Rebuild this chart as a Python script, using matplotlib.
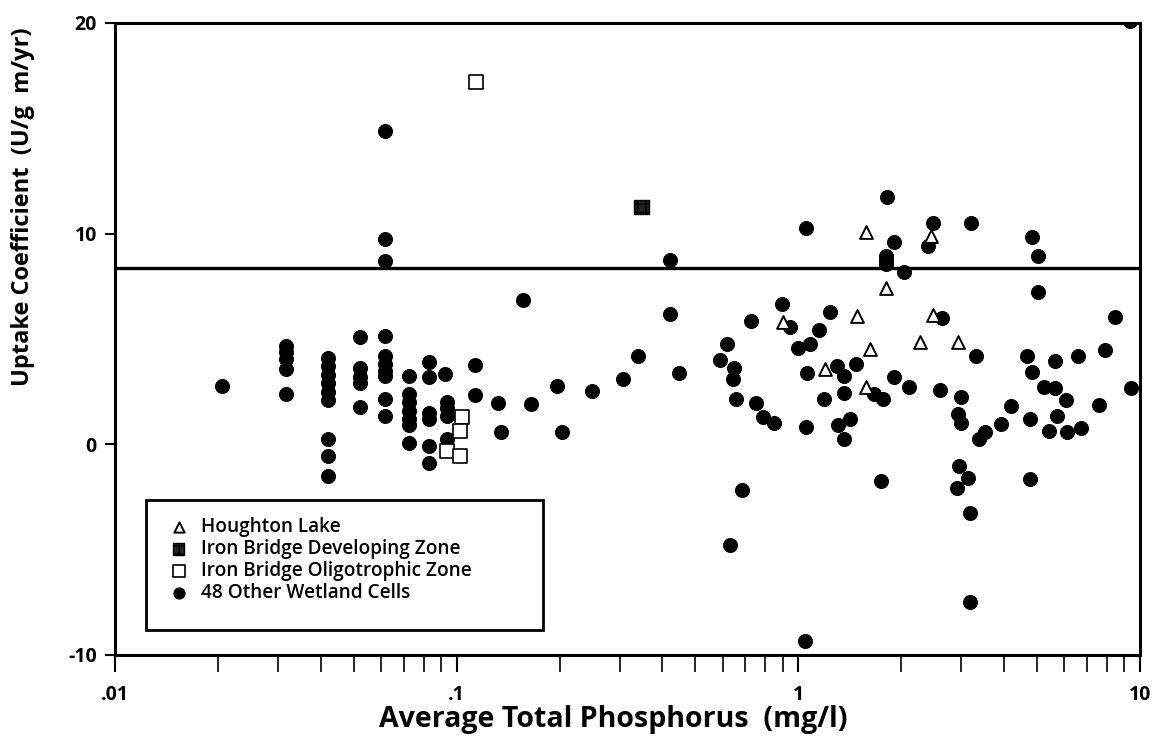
import matplotlib
matplotlib.use("Agg")
import matplotlib.pyplot as plt
from matplotlib.patches import Rectangle
from matplotlib.ticker import FixedLocator, LogLocator, NullFormatter

plt.rcParams['font.family'] = ['Open Sans', 'DejaVu Sans']

# ---- data ----
other_x = [0.0205,
           0.0316, 0.0316, 0.0316, 0.0316, 0.0316,
           0.042, 0.042, 0.042, 0.042, 0.042, 0.042, 0.042, 0.042, 0.042,
           0.052, 0.052, 0.052, 0.052, 0.052,
           0.0616, 0.0616, 0.0616, 0.0616, 0.0616, 0.0616, 0.0616, 0.0616, 0.0616, 0.0616,
           0.0724, 0.0724, 0.0724, 0.0724, 0.0724, 0.0724, 0.0724,
           0.0828, 0.0828, 0.0828, 0.0828, 0.0828, 0.0828,
           0.0927, 0.0936, 0.0936, 0.0936, 0.0936,
           0.1135, 0.1135, 0.132, 0.135,
           0.42, 0.156, 0.422, 0.339, 0.446, 0.306, 0.197, 0.249, 0.165, 0.204,
           0.684, 0.629,
           1.05, 0.894, 1.24, 0.728, 0.946, 1.15, 1.0, 1.08, 0.617, 0.59, 0.65, 0.643,
           1.06, 1.30, 1.47, 1.36, 1.36, 1.67, 1.19, 0.656, 0.75, 0.786, 0.85, 1.05,
           1.42, 1.31, 1.36, 1.74, 1.045,
           1.82, 2.47, 3.2, 1.91, 2.40, 1.80, 1.80, 1.80, 2.04, 4.82, 5.04, 5.04,
           2.63, 8.45, 3.3, 4.68, 5.65, 6.6, 7.9, 4.82, 1.9, 2.11, 2.6, 5.24, 5.65,
           6.08, 9.38, 7.59, 2.99, 1.77, 4.18, 5.7, 4.76, 2.94, 2.99, 3.93, 3.52,
           3.38, 5.4, 6.12, 6.7,
           2.96, 3.13, 2.92, 3.18, 4.77, 3.18, 9.35]
other_y = [2.78,
           4.68, 4.37, 4.05, 3.57, 2.38,
           4.1, 3.7, 3.3, 2.9, 2.5, 2.1, 0.24, -0.56, -1.51,
           5.08, 3.6, 3.2, 2.9, 1.75,
           14.86, 9.76, 8.7, 5.16, 4.2, 3.8, 3.5, 3.25, 2.14, 1.35,
           3.25, 2.4, 2.0, 1.6, 1.2, 0.9, 0.08,
           3.89, 3.17, 1.5, 1.19, -0.08, -0.87,
           3.33, 2.0, 1.7, 1.33, 0.24,
           3.76, 2.35, 1.98, 0.59,
           8.73, 6.87, 6.19, 4.17, 3.38, 3.1, 2.78, 2.54, 1.9, 0.56,
           -2.19, -4.79,
           10.27, 6.67, 6.3, 5.83, 5.56, 5.4, 4.57, 4.76, 4.76, 4.01, 3.62, 3.1,
           3.38, 3.73, 3.81, 3.25, 2.43, 2.38, 2.14, 2.17, 1.98, 1.27, 1.0, 0.84,
           1.22, 0.9, 0.27, -1.75, -9.32,
           11.75, 10.48, 10.48, 9.58, 9.43, 8.95, 8.75, 8.55, 8.17, 9.82, 8.92, 7.21,
           5.98, 6.06, 4.17, 4.17, 3.94, 4.17, 4.47, 3.44, 3.2, 2.74, 2.59, 2.74, 2.69,
           2.11, 2.69, 1.86, 2.22, 2.14, 1.8, 1.35, 1.19, 1.43, 1.03, 0.95, 0.59,
           0.24, 0.63, 0.56, 0.79,
           -1.03, -1.62, -2.1, -3.25, -1.63, -7.5, 20.1]

houghton_x = [1.58, 1.81, 1.48, 0.90, 1.62, 1.2, 1.58, 2.47, 2.27, 2.94, 2.44]
houghton_y = [10.08, 7.4, 6.08, 5.8, 4.52, 3.57, 2.74, 6.14, 4.87, 4.87, 9.9]

dev_x = [0.347]
dev_y = [11.27]

oligo_x = [0.1137, 0.1035, 0.102, 0.0936, 0.1025]
oligo_y = [17.2, 1.27, 0.63, -0.32, -0.56]

ref_line = 8.35

x_ticks = [0.01, 0.1, 1, 10]
x_tick_labels = ['.01', '.1', '1', '10']
y_ticks = [-10, 0, 10, 20]
y_tick_labels = ['-10', '0', '10', '20']

labels = ['Houghton Lake', 'Iron Bridge Developing Zone',
          'Iron Bridge Oligotrophic Zone', '48 Other Wetland Cells']

# ---- figure ----
fig = plt.figure(figsize=(11.64, 7.40), dpi=100)
ax = fig.add_axes([0.0988, 0.115, 0.8806, 0.854])

ax.axhline(ref_line, color='black', lw=2.4, zorder=1)

h_other = ax.scatter(other_x, other_y, s=100, marker='o', facecolor='black',
                     edgecolor='black', lw=0.8, zorder=3)
h_hough = ax.scatter(houghton_x, houghton_y, s=85, marker='^', facecolor='white',
                     edgecolor='black', lw=1.4, zorder=4)
h_dev = ax.scatter(dev_x, dev_y, s=110, marker='s', facecolor='#222222',
                   edgecolor='black', lw=1.0, hatch='++', zorder=4)
h_oligo = ax.scatter(oligo_x, oligo_y, s=110, marker='s', facecolor='white',
                     edgecolor='black', lw=1.2, zorder=4)

ax.set_xscale('log')
ax.set_xlim(0.01, 10)
ax.set_ylim(-10, 20)

ax.xaxis.set_major_locator(FixedLocator(x_ticks))
ax.set_xticklabels(x_tick_labels)
ax.xaxis.set_minor_locator(LogLocator(base=10, subs=range(2, 10)))
ax.xaxis.set_minor_formatter(NullFormatter())
ax.set_yticks(y_ticks)
ax.set_yticklabels(y_tick_labels)

ax.tick_params(axis='x', which='major', direction='out', length=12, width=1.5,
               labelsize=14, pad=10)
ax.tick_params(axis='x', which='minor', direction='out', length=12, width=1.2)
ax.tick_params(axis='y', which='major', direction='out', length=7, width=1.5,
               labelsize=14, pad=6)
for lab in ax.get_xticklabels() + ax.get_yticklabels():
    lab.set_fontweight('bold')

for sp in ax.spines.values():
    sp.set_linewidth(2.2)

ax.set_xlabel('Average Total Phosphorus  (mg/l)', fontsize=20.5, fontweight='bold')
ax.xaxis.set_label_coords(0.486, -0.079)
ax.set_ylabel('Uptake Coefficient  (U/g  m/yr)', fontsize=17, fontweight='bold')
ax.yaxis.set_label_coords(-0.078, 0.71)

# legend box
ax.add_patch(Rectangle((0.030, 0.040), 0.3876, 0.205, transform=ax.transAxes,
                       facecolor='white', edgecolor='black', lw=2.0, zorder=5))
leg = ax.legend([h_hough, h_dev, h_oligo, h_other], labels,
                loc='upper left', bbox_to_anchor=(0.049, 0.224),
                frameon=False, fontsize=13.7, handletextpad=0.7,
                labelspacing=0.1, markerscale=0.8, borderaxespad=0.0,
                handlelength=1.0, borderpad=0.2)
leg.set_zorder(6)
for t in leg.get_texts():
    t.set_fontweight('semibold')

fig.savefig('out.png', dpi=100)
